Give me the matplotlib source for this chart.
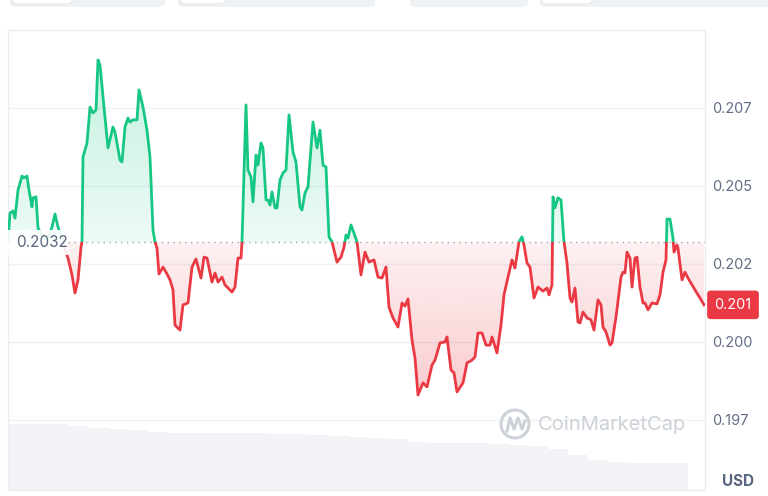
import numpy as np
import matplotlib
matplotlib.use("Agg")
import matplotlib.pyplot as plt
import matplotlib.colors as mcolors
import matplotlib.transforms as mtransforms
from matplotlib.patches import Rectangle, FancyBboxPatch, Ellipse, PathPatch
from matplotlib.path import Path
from matplotlib.lines import Line2D

plt.rcParams['font.family'] = ['Inter', 'DejaVu Sans']

# time position (sample units across the day) and price in USD
t = [0, 2, 5, 7, 10, 14, 16, 19, 21, 24, 25, 28, 30, 36, 41, 44, 47, 50, 54, 57,
     60, 64, 67, 70, 73, 74, 75, 79, 82, 85, 88, 90, 92, 96, 100, 105, 107, 112, 114, 117,
     120, 122, 125, 129, 131, 135, 139, 142, 145, 147, 149, 151, 155, 159, 162, 165, 167, 172, 175, 180,
     184, 188, 193, 196, 199, 204, 207, 210, 214, 217, 224, 227, 230, 233, 234, 238, 240, 243, 245, 248,
     250, 253, 255, 258, 260, 262, 264, 267, 269, 272, 275, 278, 281, 285, 288, 292, 294, 297, 300, 305,
     309, 312, 315, 318, 321, 324, 329, 333, 336, 338, 340, 343, 346, 349, 353, 357, 361, 366, 370, 374,
     378, 381, 385, 390, 394, 397, 400, 404, 407, 410, 415, 419, 424, 427, 432, 437, 439, 443, 446, 449,
     455, 459, 464, 467, 470, 474, 478, 482, 484, 489, 493, 496, 500, 504, 507, 511, 514, 516, 519, 522,
     526, 530, 535, 539, 541, 544, 545, 547, 550, 553, 556, 559, 562, 564, 567, 570, 572, 575, 579, 583,
     586, 590, 593, 595, 598, 602, 604, 608, 613, 615, 617, 619, 622, 624, 627, 629, 632, 635, 637, 640,
     644, 649, 652, 655, 658, 659, 662, 665, 666, 669, 670, 674, 677, 680, 687, 692, 696]
price = [0.20321, 0.20413, 0.20420, 0.20397, 0.20487, 0.20532, 0.20526, 0.20532, 0.20487, 0.20433,
         0.20462, 0.20465, 0.20365, 0.20333, 0.20340, 0.20369, 0.20410, 0.20369, 0.20327, 0.20295,
         0.20269, 0.20215, 0.20157, 0.20199, 0.20304, 0.20321, 0.20593, 0.20638, 0.20753, 0.20734,
         0.20744, 0.20904, 0.20888, 0.20753, 0.20622, 0.20689, 0.20673, 0.20583, 0.20577, 0.20689,
         0.20718, 0.20705, 0.20712, 0.20712, 0.20808, 0.20753, 0.20679, 0.20593, 0.20359, 0.20321,
         0.20301, 0.20218, 0.20240, 0.20218, 0.20199, 0.20167, 0.20054, 0.20038, 0.20119, 0.20125,
         0.20240, 0.20266, 0.20205, 0.20272, 0.20269, 0.20192, 0.20221, 0.20192, 0.20208, 0.20183,
         0.20160, 0.20176, 0.20269, 0.20269, 0.20321, 0.20760, 0.20551, 0.20529, 0.20449, 0.20599,
         0.20567, 0.20638, 0.20622, 0.20455, 0.20455, 0.20439, 0.20481, 0.20430, 0.20430, 0.20519,
         0.20542, 0.20551, 0.20728, 0.20609, 0.20577, 0.20433, 0.20423, 0.20478, 0.20497, 0.20705,
         0.20622, 0.20679, 0.20567, 0.20561, 0.20337, 0.20321, 0.20256, 0.20272, 0.20304, 0.20343,
         0.20333, 0.20375, 0.20349, 0.20321, 0.20215, 0.20288, 0.20256, 0.20263, 0.20208, 0.20205,
         0.20240, 0.20112, 0.20077, 0.20048, 0.20125, 0.20115, 0.20138, 0.20006, 0.19949, 0.19830,
         0.19869, 0.19856, 0.19926, 0.19942, 0.19997, 0.20000, 0.20016, 0.19910, 0.19901, 0.19840,
         0.19869, 0.19933, 0.19942, 0.19952, 0.20029, 0.20029, 0.19990, 0.19990, 0.20016, 0.19965,
         0.20054, 0.20151, 0.20208, 0.20263, 0.20237, 0.20321, 0.20337, 0.20311, 0.20253, 0.20240,
         0.20141, 0.20176, 0.20163, 0.20173, 0.20151, 0.20183, 0.20465, 0.20430, 0.20462, 0.20455,
         0.20321, 0.20253, 0.20141, 0.20128, 0.20173, 0.20064, 0.20061, 0.20096, 0.20077, 0.20071,
         0.20038, 0.20135, 0.20119, 0.20048, 0.20032, 0.19990, 0.19997, 0.20080, 0.20208, 0.20224,
         0.20221, 0.20288, 0.20269, 0.20176, 0.20269, 0.20272, 0.20176, 0.20125, 0.20125, 0.20103,
         0.20125, 0.20122, 0.20151, 0.20224, 0.20263, 0.20394, 0.20394, 0.20333, 0.20288, 0.20311,
         0.20301, 0.20199, 0.20224, 0.20205, 0.20167, 0.20141, 0.20119]
open_price = 0.2032
open_label = '0.2032'
last_label = '0.201'

# volume (millions) per block of 20 time units
vol_t = np.arange(0, 680, 20)
volume = [64, 64, 64, 62, 60, 59, 58, 56, 55, 55, 55, 55, 55, 54, 54, 53, 52, 51, 50, 49,
          47, 46, 46, 46, 45, 44, 43, 40, 34, 29, 27, 26, 26, 26]

tick_vals = [0.1975, 0.2000, 0.2025, 0.2050, 0.2075]
tick_labels = ['0.197', '0.200', '0.202', '0.205', '0.207']

GREEN = '#16c784'
RED = '#ea3943'
GREY = '#616e85'
W, H = 768, 496
XMAX = 697
YMIN, YMAX = 0.195256, 0.2100

fig = plt.figure(figsize=(W / 100, H / 100), dpi=100)
fig.patch.set_facecolor('white')
rect = [8 / W, 6 / H, XMAX / W, 460 / H]

# volume layer
axv = fig.add_axes(rect)
axv.bar(vol_t, volume, width=20, align='edge', color='#f2f3f6', edgecolor='none')
axv.set_xlim(0, XMAX)
axv.set_ylim(0, max(volume) * 460 / 66)
axv.axis('off')

ax = fig.add_axes(rect)
ax.patch.set_visible(False)

tt = np.array(t, dtype=float)
pp = np.array(price)


def grad_fill(where, color, a_near, a_far, y_far):
    coll = ax.fill_between(tt, pp, open_price, where=where, interpolate=True,
                           facecolor='none', edgecolor='none', lw=0)
    patch = PathPatch(Path.make_compound_path(*coll.get_paths()),
                      transform=ax.transData, fc='none', ec='none')
    ax.add_patch(patch)
    img = np.zeros((256, 1, 4))
    img[..., :3] = mcolors.to_rgb(color)
    img[..., 3] = np.linspace(a_near, a_far, 256)[:, None]
    im = ax.imshow(img, extent=[0, XMAX, open_price, y_far], origin='lower',
                   aspect='auto', zorder=1, interpolation='bilinear')
    im.set_clip_path(patch)


grad_fill(pp >= open_price, GREEN, 0.08, 0.26, 0.2092)
grad_fill(pp <= open_price, RED, 0.07, 0.26, 0.1982)

for color, box in [(GREEN, (open_price, 0.02)), (RED, (0.18, open_price - 0.18))]:
    ln, = ax.plot(tt, pp, color=color, lw=2.0, zorder=3, solid_joinstyle='round')
    ln.set_clip_path(Rectangle((0, box[0]), XMAX, box[1], transform=ax.transData))

ax.hlines(open_price, 60, XMAX, colors='#9aa2b1', linestyles=(0, (1, 3.2)), lw=1, zorder=2)
ax.add_patch(Rectangle((0, open_price - 0.00040), 60, 0.00080, fc='white', ec='none',
                       alpha=0.9, zorder=4))
ax.text(8, open_price, open_label, ha='left', va='center', fontsize=11, color='#58667e', zorder=5)

ax.set_xlim(0, XMAX)
ax.set_ylim(YMIN, YMAX)
ax.yaxis.tick_right()
ax.set_yticks(tick_vals, tick_labels)
ax.tick_params(axis='y', length=0, pad=5, labelsize=10.5, labelcolor=GREY)
ax.tick_params(axis='x', bottom=False, labelbottom=False)
ax.grid(axis='y', color='#eff1f4', lw=1)
ax.set_axisbelow(True)
for s in ax.spines.values():
    s.set_color('#e9ecf0')
    s.set_linewidth(1)

# last price tag
trans = mtransforms.blended_transform_factory(ax.transAxes, ax.transData)
ax.text((733 - 8) / XMAX, pp[-1], last_label, transform=trans, ha='center', va='center',
        color='white', fontsize=10.5, clip_on=False, zorder=6,
        bbox=dict(boxstyle='round,pad=0.5,rounding_size=0.25', fc=RED, ec='none'))

fig.text(738 / W, 1 - 481 / H, 'USD', ha='center', va='center', fontsize=11,
         weight='bold', color='#58667e')

# watermark
fig.text(612 / W, 1 - 425 / H, 'CoinMarketCap', ha='center', va='center', fontsize=14.5,
         color='#cdd2d9')
fig.add_artist(Ellipse((515 / W, 1 - 424 / H), 28 / W, 28 / H, transform=fig.transFigure,
                       fc='none', ec='#cdd2d9', lw=2.2))
mx = [507, 510, 514, 518, 522, 525]
my = [431, 418, 429, 418, 429, 421]
fig.add_artist(Line2D([x / W for x in mx], [1 - y / H for y in my], transform=fig.transFigure,
                      color='#cdd2d9', lw=2.2, solid_joinstyle='round'))

# top tab strip (cropped buttons)
for x0, x1 in [(10, 165), (178, 375), (410, 528), (540, 775)]:
    fig.add_artist(FancyBboxPatch((x0 / W, 1 - 7 / H), (x1 - x0) / W, 14 / H,
                                  boxstyle='round,pad=0,rounding_size=0.008',
                                  transform=fig.transFigure, fc='#eff2f5', ec='none'))
for x0, x1 in [(12, 72), (180, 225), (542, 592)]:
    fig.add_artist(FancyBboxPatch((x0 / W, 1 - 4 / H), (x1 - x0) / W, 10 / H,
                                  boxstyle='round,pad=0,rounding_size=0.006',
                                  transform=fig.transFigure, fc='white', ec='#e3e6eb', lw=0.8))

fig.savefig('out.png', dpi=100, facecolor='white')
